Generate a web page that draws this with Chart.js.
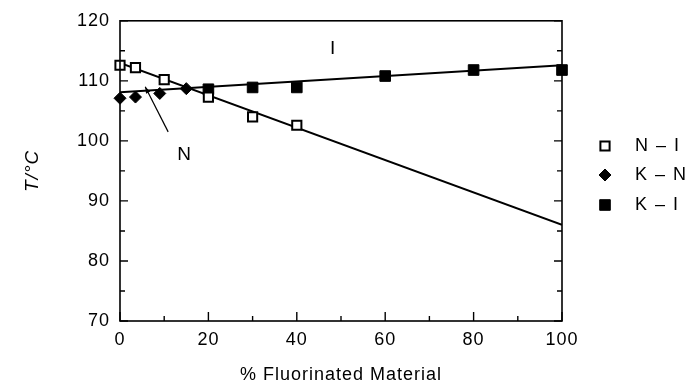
<!DOCTYPE html>
<html>
<head>
<meta charset="utf-8">
<script src="https://cdn.jsdelivr.net/npm/chart.js@4.4.1/dist/chart.umd.min.js"></script>
<style>
  html, body { margin: 0; padding: 0; background: #fff; }
  #wrap { width: 689px; height: 389px; }
</style>
</head>
<body>
<div id="wrap"><canvas id="c" width="689" height="389"></canvas></div>
<script>
// ---- data ----
const seriesLabels = ['N – I', 'K – N', 'K – I'];
const xNI = [0, 3.5, 10, 20, 30, 40];
const yNI = [112.6, 112.2, 110.2, 107.3, 104.0, 102.6];
const xKN = [0, 3.5, 9, 15];
const yKN = [107.1, 107.3, 107.9, 108.7];
const xKI = [20, 30, 40, 60, 80, 100];
const yKI = [108.6, 108.9, 108.9, 110.8, 111.8, 111.8];
const xFitNI = [0, 100];
const yFitNI = [113.0, 86.0];
const xFitKI = [0, 100];
const yFitKI = [108.1, 112.6];
const xTicks = [0, 20, 40, 60, 80, 100];
const yTicks = [70, 80, 90, 100, 110, 120];
const phaseLabels = ['N', 'I'];

const pts = (xs, ys) => xs.map((x, i) => ({x: x, y: ys[i]}));
const FONT = "'Liberation Sans', Arial, Helvetica, sans-serif";

const spacing = {
  id: 'spacing',
  beforeInit(chart) { chart.ctx.letterSpacing = '1px'; },
  beforeDraw(chart) { chart.ctx.letterSpacing = '1px'; }
};

const frameAndTicks = {
  id: 'frameAndTicks',
  afterDraw(chart) {
    const ctx = chart.ctx, a = chart.chartArea;
    const xs = chart.scales.x, ys = chart.scales.y;
    ctx.save();
    ctx.strokeStyle = '#000';
    ctx.lineWidth = 1.6;
    ctx.strokeRect(a.left, a.top, a.right - a.left, a.bottom - a.top);
    ctx.lineWidth = 1.4;
    for (let v = ys.min; v <= ys.max; v += 5) {
      const p = ys.getPixelForValue(v);
      const len = (v % 10 === 0) ? 8 : 5;
      ctx.beginPath();
      ctx.moveTo(a.left, p); ctx.lineTo(a.left + len, p);
      ctx.moveTo(a.right, p); ctx.lineTo(a.right - len, p);
      ctx.stroke();
    }
    for (let v = xs.min; v <= xs.max; v += 10) {
      const p = xs.getPixelForValue(v);
      const len = (v % 20 === 0) ? 9 : 5;
      ctx.beginPath();
      ctx.moveTo(p, a.bottom); ctx.lineTo(p, a.bottom - len);
      ctx.stroke();
    }
    ctx.fillStyle = '#000';
    ctx.font = '19px ' + FONT;
    ctx.textAlign = 'center';
    ctx.textBaseline = 'middle';
    ctx.fillText(phaseLabels[0], xs.getPixelForValue(14.6), ys.getPixelForValue(97.7));
    ctx.fillText(phaseLabels[1], xs.getPixelForValue(48.2), ys.getPixelForValue(115.4));
    const tx = xs.getPixelForValue(10.9), ty = ys.getPixelForValue(101.5);
    const hx = xs.getPixelForValue(5.7), hy = ys.getPixelForValue(109.0);
    ctx.lineWidth = 1.2;
    ctx.beginPath(); ctx.moveTo(tx, ty); ctx.lineTo(hx, hy); ctx.stroke();
    const ang = Math.atan2(hy - ty, hx - tx);
    ctx.beginPath();
    ctx.moveTo(hx, hy);
    ctx.lineTo(hx - 7 * Math.cos(ang - 0.35), hy - 7 * Math.sin(ang - 0.35));
    ctx.lineTo(hx - 7 * Math.cos(ang + 0.35), hy - 7 * Math.sin(ang + 0.35));
    ctx.closePath(); ctx.fill();
    const rows = [146, 175, 205];
    ctx.font = '18px ' + FONT;
    ctx.letterSpacing = '1.5px';
    ctx.textAlign = 'left';
    chart.data.datasets.forEach((ds) => {
      if (ds.legendRow === undefined) return;
      const y = rows[ds.legendRow];
      ctx.fillStyle = ds.backgroundColor;
      ctx.strokeStyle = '#000';
      ctx.lineWidth = ds.borderWidth;
      Chart.helpers.drawPoint(ctx, {pointStyle: ds.pointStyle, radius: ds.pointRadius, borderWidth: ds.borderWidth, rotation: 0}, 605, y);
      ctx.fillStyle = '#000';
      ctx.fillText(ds.label, 635, y);
    });
    ctx.restore();
  }
};

new Chart(document.getElementById('c'), {
  type: 'scatter',
  data: {
    datasets: [
      { label: 'fitNI', data: pts(xFitNI, yFitNI), showLine: true, pointRadius: 0, borderColor: '#000', borderWidth: 2, order: 5 },
      { label: 'fitKI', data: pts(xFitKI, yFitKI), showLine: true, pointRadius: 0, borderColor: '#000', borderWidth: 2, order: 5 },
      { label: seriesLabels[0], legendRow: 0, data: pts(xNI, yNI), pointStyle: 'rect', pointRadius: 6.5, borderWidth: 2, borderColor: '#000', backgroundColor: '#fff', order: 1, clip: false },
      { label: seriesLabels[1], legendRow: 1, data: pts(xKN, yKN), pointStyle: 'rectRot', pointRadius: 6, borderWidth: 1, borderColor: '#000', backgroundColor: '#000', order: 1, clip: false },
      { label: seriesLabels[2], legendRow: 2, data: pts(xKI, yKI), pointStyle: 'rect', pointRadius: 7.5, borderWidth: 1, borderColor: '#000', backgroundColor: '#000', order: 1, clip: false }
    ]
  },
  options: {
    responsive: false,
    animation: false,
    events: [],
    layout: { padding: { left: 0, top: 15, right: 127, bottom: 0 } },
    plugins: { legend: { display: false }, tooltip: { enabled: false } },
    scales: {
      x: {
        type: 'linear', min: 0, max: 100,
        afterFit(s) { s.height = 68; },
        afterBuildTicks(s) { s.ticks = xTicks.map(v => ({value: v})); },
        grid: { display: false, drawTicks: false },
        border: { display: false },
        ticks: { color: '#000', font: { family: FONT, size: 18 }, padding: 8, maxRotation: 0 },
        title: { display: true, text: '% Fluorinated Material', color: '#000', font: { family: FONT, size: 18 }, padding: { top: 0, bottom: 3 } }
      },
      y: {
        type: 'linear', min: 70, max: 120,
        afterFit(s) { s.width = 120; },
        afterBuildTicks(s) { s.ticks = yTicks.map(v => ({value: v})); },
        grid: { display: false, drawTicks: false },
        border: { display: false },
        ticks: { color: '#000', font: { family: FONT, size: 18 }, padding: 10 },
        title: { display: true, text: 'T/°C', color: '#000', font: { family: FONT, size: 19, style: 'italic' }, padding: { top: 21, bottom: 0 } }
      }
    }
  },
  plugins: [spacing, frameAndTicks]
});
</script>
</body>
</html>
